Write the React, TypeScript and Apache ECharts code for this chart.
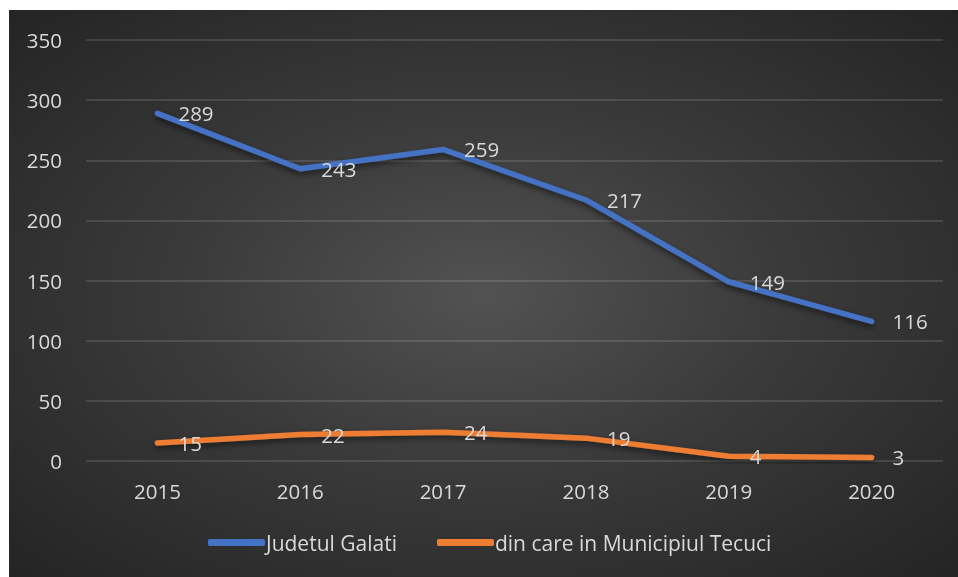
import React, { useEffect, useRef } from "react";
import * as echarts from "echarts";

const years = ["2015", "2016", "2017", "2018", "2019", "2020"];
const judetulGalati = [289, 243, 259, 217, 149, 116];
const municipiulTecuci = [15, 22, 24, 19, 4, 3];
const seriesNames = ["Judetul Galati", "din care in Municipiul Tecuci"];

const FONT = "'Open Sans', 'Noto Sans', sans-serif";

export default function App() {
  const ref = useRef<HTMLDivElement>(null);
  useEffect(() => {
    if (!ref.current) return;
    const chart = echarts.init(ref.current, undefined, { renderer: "svg" });
    const lineSeries = (name: string, data: number[], color: string) => ({
      name,
      type: "line",
      data,
      symbol: "circle",
      symbolSize: 0,
      showSymbol: true,
      lineStyle: {
        color,
        width: 5.5,
        cap: "round",
        join: "round",
        shadowColor: "rgba(0,0,0,0.55)",
        shadowBlur: 6,
        shadowOffsetY: 3,
      },
      itemStyle: { color },
      label: {
        show: true,
        position: "right",
        distance: 21,
        color: "#d9d9d9",
        fontSize: 20.5,
        fontFamily: FONT,
      },
    });
    chart.setOption({
      animation: false,
      textStyle: { fontFamily: FONT },
      grid: { left: 77, right: 15, top: 30, bottom: 116, containLabel: false },
      xAxis: {
        type: "category",
        data: years,
        boundaryGap: true,
        axisLine: { show: false },
        axisTick: { show: false },
        axisLabel: { color: "#d9d9d9", fontSize: 20.5, margin: 19, fontFamily: FONT },
      },
      yAxis: {
        type: "value",
        min: 0,
        max: 350,
        interval: 50,
        axisLine: { show: false },
        axisTick: { show: false },
        axisLabel: { color: "#d9d9d9", fontSize: 20.5, margin: 24, fontFamily: FONT },
        splitLine: { lineStyle: { color: "rgba(255,255,255,0.12)", width: 2 } },
      },
      legend: {
        bottom: 19,
        left: 194,
        itemWidth: 57,
        itemHeight: 7,
        itemGap: 40,
        icon: "roundRect",
        textStyle: { color: "#d9d9d9", fontSize: 21, fontFamily: FONT, padding: [0, 0, 0, -4] },
        data: seriesNames,
      },
      series: [
        lineSeries(seriesNames[0], judetulGalati, "#4472C4"),
        lineSeries(seriesNames[1], municipiulTecuci, "#ED7D31"),
      ],
    });
    return () => chart.dispose();
  }, []);
  return (
    <div
      ref={ref}
      style={{
        position: "fixed",
        left: 9,
        top: 10,
        width: 949,
        height: 567,
        background: "radial-gradient(ellipse at 50% 50%, #525252 0%, #3a3a3a 45%, #242424 100%)",
      }}
    />
  );
}
